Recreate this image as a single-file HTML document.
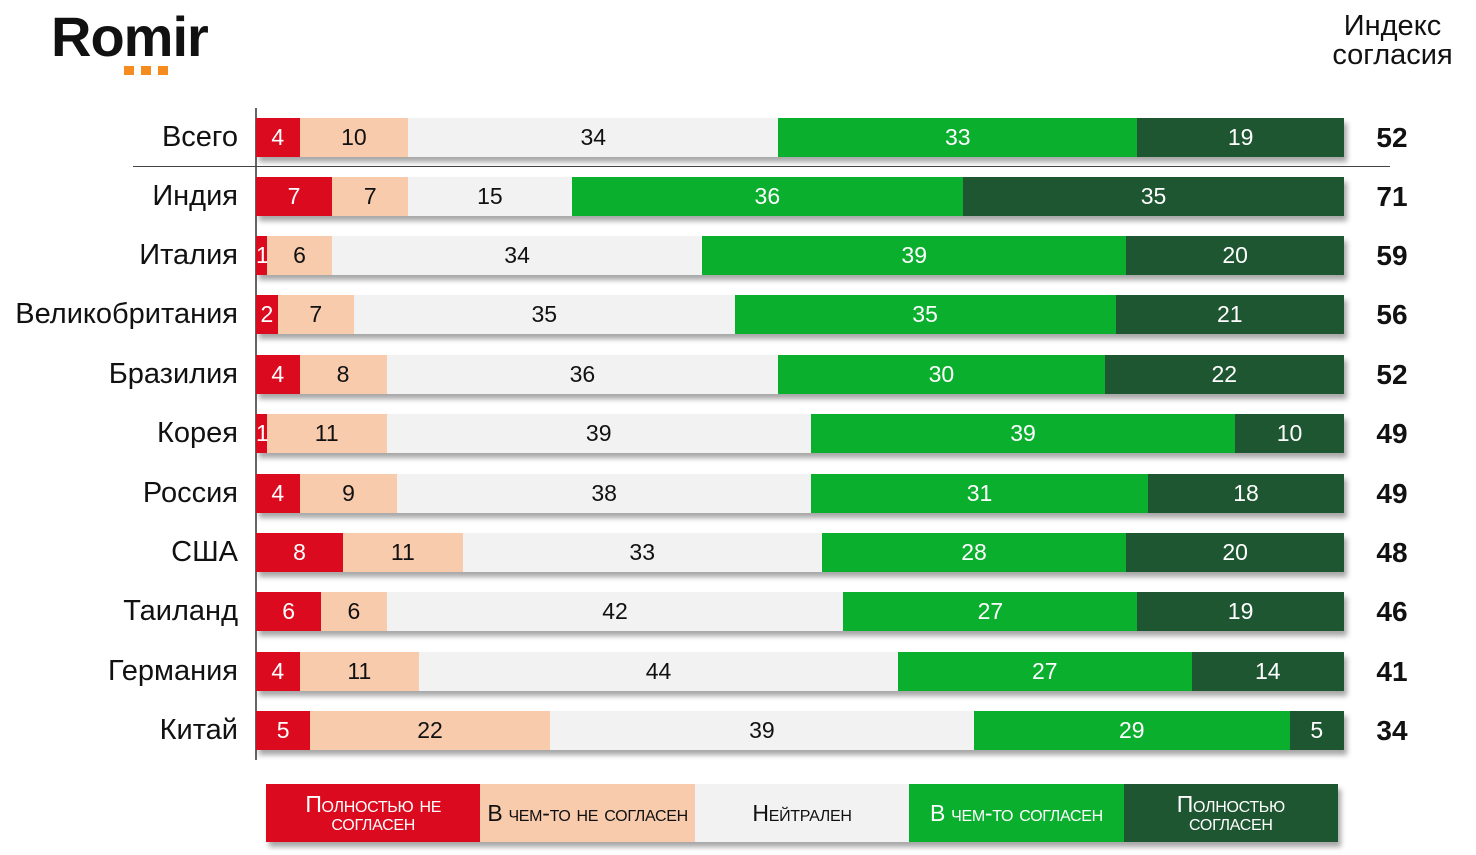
<!DOCTYPE html>
<html><head><meta charset="utf-8"><style>
body{margin:0;width:1476px;height:855px;background:#fff;position:relative;overflow:hidden;font-family:"Liberation Sans",Arial,sans-serif}
.logo{position:absolute;left:51px;top:4px;font-size:56px;font-weight:bold;letter-spacing:-1px;color:#111}
.dots{position:absolute;left:124px;top:62px}
.dots i{display:inline-block;width:10px;height:9px;background:#f68b1f;margin-right:7px}
.hdr{position:absolute;left:1320px;top:12px;width:145px;text-align:center;font-size:29px;line-height:29px;color:#111}
.axis{position:absolute;left:255px;top:108px;width:2px;height:652px;background:#666}
.sep{position:absolute;left:133px;top:166px;width:1257px;height:1px;background:#444}
.row{position:absolute;left:0;width:1476px;height:39px}
.lab{position:absolute;right:1238px;top:0;line-height:39px;font-size:29px;color:#111;white-space:nowrap}
.bar{position:absolute;left:256px;width:1088px;height:39px;display:flex;box-shadow:3px 5px 5px rgba(0,0,0,.35)}
.bar div{height:39px;line-height:39px;text-align:center;font-size:23px;overflow:visible;white-space:nowrap}
.a{background:#dc0a1e;color:#fff}.b{background:#f8cbad;color:#111}.c{background:#f2f2f2;color:#111}.d{background:#0baf2e;color:#fff}.e{background:#1e5631;color:#fff}
.idx{position:absolute;left:1360px;width:64px;text-align:center;line-height:39px;font-size:28px;font-weight:bold;color:#111}
.leg{position:absolute;left:266px;top:784px;width:1072px;height:58px;display:flex;box-shadow:3px 5px 5px rgba(0,0,0,.35)}
.leg div{flex:1;display:flex;align-items:center;justify-content:center;text-align:center;font-size:23px;line-height:18px;font-variant:small-caps;white-space:nowrap;letter-spacing:-0.3px}
</style></head><body>
<div class="logo">Romir</div>
<div class="dots"><i></i><i></i><i></i></div>
<div class="hdr">Индекс<br>согласия</div>
<div class="axis"></div>
<div class="sep"></div>

<div class="row" style="top:118px"><div class="lab">Всего</div><div class="bar"><div class="a" style="width:4%">4</div><div class="b" style="width:10%">10</div><div class="c" style="width:34%">34</div><div class="d" style="width:33%">33</div><div class="e" style="width:19%">19</div></div><div class="idx">52</div></div>
<div class="row" style="top:177px"><div class="lab">Индия</div><div class="bar"><div class="a" style="width:7%">7</div><div class="b" style="width:7%">7</div><div class="c" style="width:15%">15</div><div class="d" style="width:36%">36</div><div class="e" style="width:35%">35</div></div><div class="idx">71</div></div>
<div class="row" style="top:236px"><div class="lab">Италия</div><div class="bar"><div class="a" style="width:1%">1</div><div class="b" style="width:6%">6</div><div class="c" style="width:34%">34</div><div class="d" style="width:39%">39</div><div class="e" style="width:20%">20</div></div><div class="idx">59</div></div>
<div class="row" style="top:295px"><div class="lab">Великобритания</div><div class="bar"><div class="a" style="width:2%">2</div><div class="b" style="width:7%">7</div><div class="c" style="width:35%">35</div><div class="d" style="width:35%">35</div><div class="e" style="width:21%">21</div></div><div class="idx">56</div></div>
<div class="row" style="top:355px"><div class="lab">Бразилия</div><div class="bar"><div class="a" style="width:4%">4</div><div class="b" style="width:8%">8</div><div class="c" style="width:36%">36</div><div class="d" style="width:30%">30</div><div class="e" style="width:22%">22</div></div><div class="idx">52</div></div>
<div class="row" style="top:414px"><div class="lab">Корея</div><div class="bar"><div class="a" style="width:1%">1</div><div class="b" style="width:11%">11</div><div class="c" style="width:39%">39</div><div class="d" style="width:39%">39</div><div class="e" style="width:10%">10</div></div><div class="idx">49</div></div>
<div class="row" style="top:474px"><div class="lab">Россия</div><div class="bar"><div class="a" style="width:4%">4</div><div class="b" style="width:9%">9</div><div class="c" style="width:38%">38</div><div class="d" style="width:31%">31</div><div class="e" style="width:18%">18</div></div><div class="idx">49</div></div>
<div class="row" style="top:533px"><div class="lab">США</div><div class="bar"><div class="a" style="width:8%">8</div><div class="b" style="width:11%">11</div><div class="c" style="width:33%">33</div><div class="d" style="width:28%">28</div><div class="e" style="width:20%">20</div></div><div class="idx">48</div></div>
<div class="row" style="top:592px"><div class="lab">Таиланд</div><div class="bar"><div class="a" style="width:6%">6</div><div class="b" style="width:6%">6</div><div class="c" style="width:42%">42</div><div class="d" style="width:27%">27</div><div class="e" style="width:19%">19</div></div><div class="idx">46</div></div>
<div class="row" style="top:652px"><div class="lab">Германия</div><div class="bar"><div class="a" style="width:4%">4</div><div class="b" style="width:11%">11</div><div class="c" style="width:44%">44</div><div class="d" style="width:27%">27</div><div class="e" style="width:14%">14</div></div><div class="idx">41</div></div>
<div class="row" style="top:711px"><div class="lab">Китай</div><div class="bar"><div class="a" style="width:5%">5</div><div class="b" style="width:22%">22</div><div class="c" style="width:39%">39</div><div class="d" style="width:29%">29</div><div class="e" style="width:5%">5</div></div><div class="idx">34</div></div>

<div class="leg">
<div class="a">Полностью не<br>согласен</div>
<div class="b" style="color:#111">В чем-то не согласен</div>
<div class="c" style="color:#111">Нейтрален</div>
<div class="d">В чем-то согласен</div>
<div class="e">Полностью<br>согласен</div>
</div>
</body></html>
